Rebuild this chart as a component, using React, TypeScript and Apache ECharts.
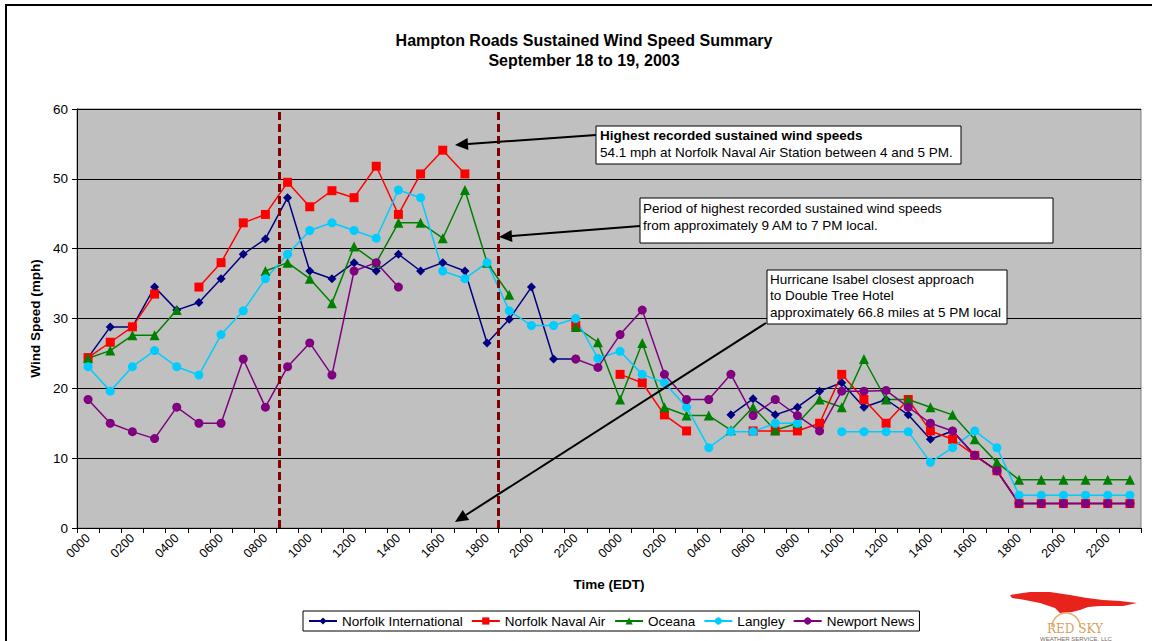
import React, { useEffect, useRef } from "react";
import * as echarts from "echarts";

const hours: string[] = [
  "0000","0100","0200","0300","0400","0500","0600","0700","0800","0900","1000","1100",
  "1200","1300","1400","1500","1600","1700","1800","1900","2000","2100","2200","2300",
];
const categories: string[] = [...hours, ...hours];

const seriesNames = ["Norfolk International", "Norfolk Naval Air", "Oceana", "Langley", "Newport News"];
const seriesColors = ["#000080", "#FF0000", "#008000", "#00CCFF", "#800080"];
const seriesSymbols = ["diamond", "rect", "triangle", "circle", "circle"];
const seriesSizes = [9, 9, 10, 9, 9];

const norfolkIntl: (number | null)[] = [
  24.4, 28.8, 28.8, 34.5, 31.2, 32.3, 35.7, 39.2, 41.4, 47.3, 36.8, 35.7,
  38.0, 36.8, 39.2, 36.8, 38.0, 36.8, 26.5, 29.9, 34.5, 24.2, 24.2, null,
  null, null, null, null, null, 16.2, 18.5, 16.2, 17.3, 19.6, 20.8, 17.3,
  18.4, 16.2, 12.7, 13.9, 10.4, 8.2, 3.5, 3.5, 3.5, 3.5, 3.5, 3.5,
];
const norfolkNaval: (number | null)[] = [
  24.4, 26.6, 28.8, 33.5, null, 34.5, 38.0, 43.7, 44.9, 49.5, 46.0, 48.3,
  47.3, 51.8, 44.9, 50.7, 54.1, 50.7, null, null, null, null, 29.0, null,
  22.0, 20.8, 16.2, 13.9, null, null, 13.9, 13.9, 13.9, 15.0, 22.0, 18.4,
  15.0, 18.4, 13.9, 12.7, 10.4, 8.2, 3.5, 3.5, 3.5, 3.5, 3.5, 3.5,
];
const oceana: (number | null)[] = [
  24.3, 25.4, 27.6, 27.6, 31.2, null, null, null, 36.8, 38.0, 35.7, 32.2,
  40.3, 38.0, 43.7, 43.7, 41.5, 48.4, 38.0, 33.4, null, null, 28.8, 26.6,
  18.4, 26.5, 17.3, 16.1, 16.1, 14.0, 17.3, 14.0, 15.0, 18.4, 17.3, 24.2,
  18.4, 18.4, 17.3, 16.2, 12.7, 9.4, 6.9, 6.9, 6.9, 6.9, 6.9, 6.9,
];
const langley: (number | null)[] = [
  23.1, 19.6, 23.1, 25.4, 23.1, 21.9, 27.7, 31.1, 35.7, 39.2, 42.6, 43.7,
  42.6, 41.5, 48.4, 47.3, 36.8, 35.7, 38.0, 31.1, 29.0, 29.0, 30.0, 24.3,
  25.3, 22.0, 20.8, 17.3, 11.5, 13.8, 13.8, 15.0, 15.0, null, 13.8, 13.8,
  13.8, 13.8, 9.4, 11.5, 13.9, 11.5, 4.7, 4.7, 4.7, 4.7, 4.7, 4.7,
];
const newportNews: (number | null)[] = [
  18.4, 15.0, 13.8, 12.8, 17.3, 15.0, 15.0, 24.2, 17.3, 23.1, 26.5, 21.9,
  36.8, 38.0, 34.5, null, null, null, null, null, null, null, 24.2, 23.0,
  27.7, 31.2, 22.0, 18.4, 18.4, 22.0, 16.1, 18.4, 16.1, 13.9, 19.6, 19.6,
  19.7, 17.3, 15.0, 13.9, 10.4, 8.2, 3.5, 3.5, 3.5, 3.5, 3.5, 3.5,
];
const seriesData = [norfolkIntl, norfolkNaval, oceana, langley, newportNews];

// period of highest winds (position on a continuous hour scale 0..48)
const periodBounds: number[] = [9.12, 19.0];

const yTicks = { min: 0, max: 60, interval: 10 };

const FONT = "'Liberation Sans', Arial, sans-serif";

function arrow(x1: number, y1: number, x2: number, y2: number) {
  const dx = x2 - x1;
  const dy = y2 - y1;
  const len = Math.sqrt(dx * dx + dy * dy);
  const ux = dx / len;
  const uy = dy / len;
  const hl = 13;
  const hw = 6;
  const bx = x2 - ux * hl;
  const by = y2 - uy * hl;
  return [
    {
      type: "line",
      shape: { x1, y1, x2: bx, y2: by },
      style: { stroke: "#000", lineWidth: 2 },
      z: 100,
    },
    {
      type: "polygon",
      shape: {
        points: [
          [x2, y2],
          [bx - uy * hw, by + ux * hw],
          [bx + uy * hw, by - ux * hw],
        ],
      },
      style: { fill: "#000" },
      z: 100,
    },
  ];
}

function txt(x: number, y: number, text: string, opts: any = {}) {
  return {
    type: "text",
    x,
    y,
    z: 101,
    style: {
      text,
      fill: opts.fill || "#000",
      fontSize: opts.fontSize || 13.5,
      fontWeight: opts.fontWeight || "normal",
      fontFamily: opts.fontFamily || FONT,
      align: opts.align || "left",
      verticalAlign: "middle",
      textAlign: opts.align || "left",
      textVerticalAlign: "middle",
    },
  };
}

function box(x: number, y: number, w: number, h: number) {
  return {
    type: "rect",
    shape: { x, y, width: w, height: h },
    style: { fill: "#fff", stroke: "#000", lineWidth: 1 },
    z: 100,
  };
}

export default function App() {
  const ref = useRef<HTMLDivElement>(null);

  useEffect(() => {
    document.body.style.margin = "0";
    if (!ref.current) return;
    const chart = echarts.init(ref.current, undefined, { renderer: "svg" });

    const series: any[] = seriesNames.map((name, i) => ({
      name,
      type: "line",
      data: seriesData[i],
      xAxisIndex: 0,
      yAxisIndex: 0,
      symbol: seriesSymbols[i],
      symbolSize: seriesSizes[i],
      showSymbol: true,
      showAllSymbol: true,
      connectNulls: false,
      color: seriesColors[i],
      lineStyle: { color: seriesColors[i], width: 1.5 },
      itemStyle: { color: seriesColors[i], borderWidth: 0 },
      emphasis: { disabled: true },
    }));

    series.push({
      name: "period",
      type: "line",
      xAxisIndex: 1,
      yAxisIndex: 0,
      data: [],
      silent: true,
      markLine: {
        silent: true,
        symbol: ["none", "none"],
        label: { show: false },
        lineStyle: { color: "#800000", width: 3, type: [8, 4] },
        data: periodBounds.map((v) => ({ xAxis: v })),
      },
    });

    const graphic: any[] = [
      {
        type: "rect",
        shape: { x: 6, y: 5, width: 1170, height: 700 },
        style: { fill: "none", stroke: "#000", lineWidth: 2 },
        z: 0,
      },
      txt(584, 40, "Hampton Roads Sustained Wind Speed Summary", { fontSize: 16, fontWeight: "bold", align: "center" }),
      txt(584, 60, "September 18 to 19, 2003", { fontSize: 16, fontWeight: "bold", align: "center" }),
      // annotation 1
      ...arrow(596, 135, 455, 145),
      box(596, 126, 365, 38),
      txt(600, 135, "Highest recorded sustained wind speeds", { fontWeight: "bold" }),
      txt(600, 152, "54.1 mph at Norfolk Naval Air Station between 4 and 5 PM."),
      // annotation 2
      ...arrow(640, 226, 499, 237),
      box(640, 198, 413, 45),
      txt(643, 208, "Period of highest recorded sustained wind speeds"),
      txt(643, 225, "from approximately 9 AM to 7 PM local."),
      // annotation 3
      ...arrow(766, 323, 455, 522),
      box(767, 270, 240, 54),
      txt(770, 279, "Hurricane Isabel closest approach"),
      txt(770, 295, "to Double Tree Hotel"),
      txt(770, 312, "approximately 66.8 miles at 5 PM local"),
      // logo
      {
        type: "polygon",
        shape: {
          points: [
            [1010, 595], [1030, 592], [1050, 592], [1070, 595], [1087, 598], [1103, 600],
            [1120, 601], [1137, 603], [1123, 606], [1100, 606], [1088, 607], [1080, 610],
            [1072, 612], [1060, 613], [1055, 608], [1040, 603], [1025, 600], [1012, 598],
          ],
        },
        style: { fill: "#E8231C" },
        z: 50,
      },
      {
        type: "arc",
        shape: { cx: 1066, cy: 627, r: 14, startAngle: Math.PI, endAngle: Math.PI * 2, clockwise: true },
        style: { stroke: "#E8B070", lineWidth: 1.5, fill: "none" },
        z: 50,
      },
      txt(1075, 629, "RED SKY", { fontSize: 12, fill: "#D9A060", align: "center", fontFamily: "'DejaVu Serif', serif" }),
      txt(1076, 639, "WEATHER SERVICE, LLC", { fontSize: 6, fill: "#7A6A60", align: "center" }),
    ];

    chart.setOption({
      animation: false,
      backgroundColor: "#fff",
      textStyle: { fontFamily: FONT, color: "#000" },
      grid: {
        left: 77,
        top: 109,
        width: 1064,
        height: 419,
        show: true,
        backgroundColor: "#C0C0C0",
        borderColor: "#808080",
        borderWidth: 1,
        containLabel: false,
      },
      legend: {
        data: seriesNames,
        left: 303,
        top: 611,
        orient: "horizontal",
        itemWidth: 28,
        itemHeight: 9,
        itemGap: 8,
        padding: [3, 5],
        borderColor: "#000",
        borderWidth: 1,
        backgroundColor: "#fff",
        textStyle: { fontSize: 13.5, color: "#000", fontFamily: FONT },
      },
      xAxis: [
        {
          type: "category",
          data: categories,
          boundaryGap: true,
          name: "Time (EDT)",
          nameLocation: "middle",
          nameGap: 49,
          nameTextStyle: { fontWeight: "bold", fontSize: 13.5, color: "#000", fontFamily: FONT },
          axisLine: { show: true, lineStyle: { color: "#000", width: 1 } },
          axisTick: { show: true, interval: 0, length: 5, lineStyle: { color: "#000" } },
          axisLabel: { interval: 1, rotate: 45, fontSize: 12.5, color: "#000", margin: 8, fontFamily: FONT },
          splitLine: { show: false },
        },
        {
          type: "value",
          min: 0,
          max: 48,
          show: false,
          splitLine: { show: false },
        },
      ],
      yAxis: {
        type: "value",
        min: yTicks.min,
        max: yTicks.max,
        interval: yTicks.interval,
        name: "Wind Speed (mph)",
        nameLocation: "middle",
        nameGap: 32,
        nameTextStyle: { fontWeight: "bold", fontSize: 13.5, color: "#000", fontFamily: FONT },
        axisLine: { show: true, lineStyle: { color: "#000", width: 1 } },
        axisTick: { show: true, length: 5, lineStyle: { color: "#000" } },
        axisLabel: { fontSize: 13.5, color: "#000", margin: 9, fontFamily: FONT },
        splitLine: { show: true, lineStyle: { color: "#000", width: 1 } },
      },
      series,
      graphic,
    });

    return () => chart.dispose();
  }, []);

  return <div ref={ref} style={{ width: 1152, height: 641 }} />;
}
